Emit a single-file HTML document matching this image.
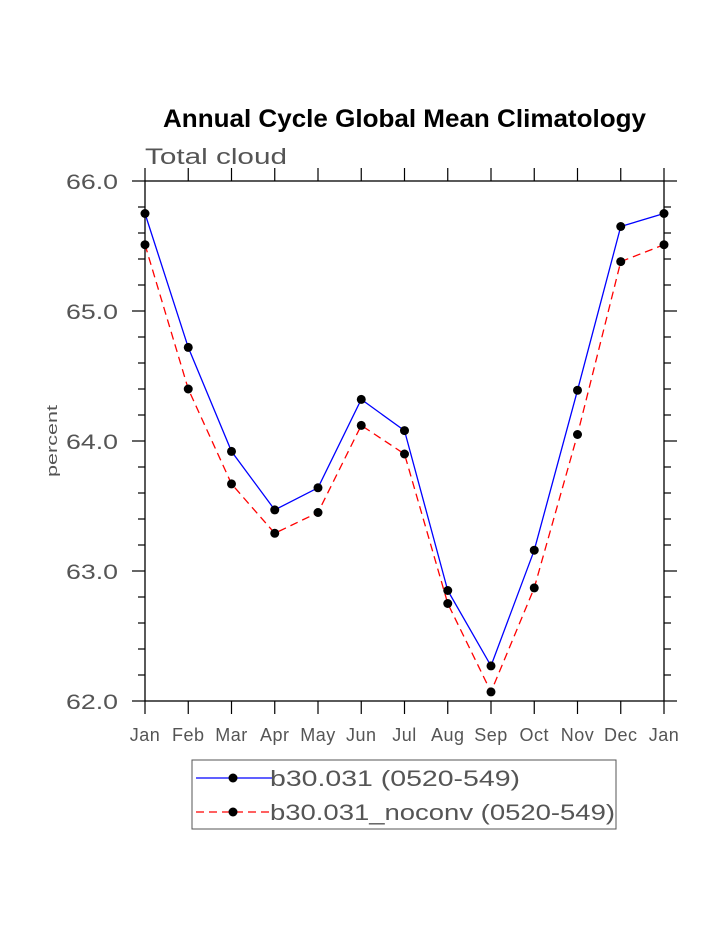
<!DOCTYPE html>
<html><head><meta charset="utf-8"><style>
body{margin:0;background:#fff}
svg text{font-family:"Liberation Sans",sans-serif}
</style></head><body>
<svg id="chart" width="723" height="935" xmlns="http://www.w3.org/2000/svg">
<text x="163" y="127" font-size="25" font-weight="bold" fill="#000" textLength="483" lengthAdjust="spacingAndGlyphs">Annual Cycle Global Mean Climatology</text>
<text x="145" y="164" font-size="22" fill="#555" textLength="142" lengthAdjust="spacingAndGlyphs">Total cloud</text>
<text transform="translate(57,441) rotate(-90)" text-anchor="middle" font-size="15" fill="#555" textLength="72" lengthAdjust="spacingAndGlyphs">percent</text>
<g id="axes"></g>
<g id="series"></g>
<g>
<rect x="192" y="760" width="424" height="69" fill="#fff" stroke="#555" stroke-width="1"/>
<line x1="196" y1="778" x2="272" y2="778" stroke="#0000ff" stroke-width="1.3"/>
<circle cx="233" cy="778" r="4.5" fill="#000"/>
<text x="270" y="786" font-size="22" fill="#555" textLength="250" lengthAdjust="spacingAndGlyphs">b30.031 (0520-549)</text>
<line x1="196" y1="812" x2="272" y2="812" stroke="#ff0000" stroke-width="1.3" stroke-dasharray="8,5"/>
<circle cx="233" cy="812" r="4.5" fill="#000"/>
<text x="270" y="820" font-size="22" fill="#555" textLength="345" lengthAdjust="spacingAndGlyphs">b30.031_noconv (0520-549)</text>
</g>
</svg>
<script>
const months=["Jan","Feb","Mar","Apr","May","Jun","Jul","Aug","Sep","Oct","Nov","Dec","Jan"];
const seriesA=[65.75,64.72,63.92,63.47,63.64,64.32,64.08,62.85,62.27,63.16,64.39,65.65,65.75];
const seriesB=[65.51,64.40,63.67,63.29,63.45,64.12,63.90,62.75,62.07,62.87,64.05,65.38,65.51];
const yTicks=[62,63,64,65,66];
const yTickLabels=["62.0","63.0","64.0","65.0","66.0"];
const X0=145,X1=664,Y0=701,Y1=181,YMIN=62,YMAX=66;
const NS="http://www.w3.org/2000/svg";
function xs(i){return X0+(X1-X0)*i/(months.length-1);}
function ys(v){return Y0-(v-YMIN)/(YMAX-YMIN)*(Y0-Y1);}
function mk(tag,attrs,parent){const e=document.createElementNS(NS,tag);for(const k in attrs)e.setAttribute(k,attrs[k]);parent.appendChild(e);return e;}
const axes=document.getElementById('axes'),ser=document.getElementById('series');
const frame=mk('rect',{x:X0,y:Y1,width:X1-X0,height:Y0-Y1,fill:'none',stroke:'#000','stroke-width':1.3},axes);


months.forEach((m,i)=>{
  const x=xs(i);
  mk('line',{x1:x,y1:Y1,x2:x,y2:Y1-13,stroke:'#000','stroke-width':1.2},axes);
  mk('line',{x1:x,y1:Y0,x2:x,y2:Y0+13,stroke:'#000','stroke-width':1.2},axes);
  const t=mk('text',{x:x,y:Y0+40,'text-anchor':'middle','font-size':18,fill:'#555','letter-spacing':'0.5'},axes);
  t.textContent=m;
  
  
});
for(let v=YMIN;v<=YMAX+1e-9;v+=0.2){
  const y=ys(v);const major=Math.abs(v-Math.round(v))<1e-6;const len=major?13:7;
  mk('line',{x1:X0,y1:y,x2:X0-len,y2:y,stroke:'#000','stroke-width':1.2},axes);
  mk('line',{x1:X1,y1:y,x2:X1+len,y2:y,stroke:'#000','stroke-width':1.2},axes);
}
yTicks.forEach((v,i)=>{
  const t=mk('text',{x:66,y:ys(v)+8,'font-size':21,fill:'#555',textLength:52,lengthAdjust:'spacingAndGlyphs'},axes);
  t.textContent=yTickLabels[i];
  
  
});
function draw(vals,color,dash,name){
  const p=mk('polyline',{points:vals.map((v,i)=>xs(i)+','+ys(v)).join(' '),fill:'none',stroke:color,'stroke-width':1.3,'stroke-dasharray':dash},ser);
  
  
  vals.forEach((v,i)=>{
    const c=mk('circle',{cx:xs(i),cy:ys(v),r:4.5,fill:'#000'},ser);
    
    
  });
}
draw(seriesB,'#ff0000','8,5','b30-031-noconv');
draw(seriesA,'#0000ff','none','b30-031');
</script>
</body></html>
